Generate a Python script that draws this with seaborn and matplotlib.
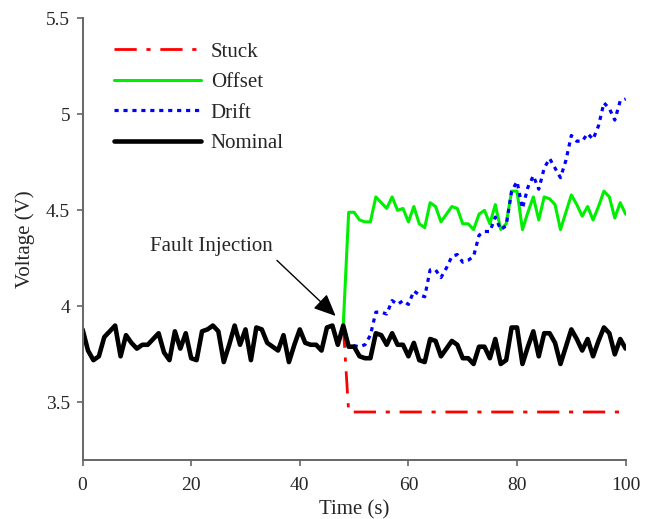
import matplotlib as mpl
import numpy as np
import pandas as pd
mpl.use("Agg")
import matplotlib.pyplot as plt
import seaborn as sns

# nominal sensor voltage, one sample per second
time_s = list(range(0, 101))
nominal = [3.88, 3.77, 3.72, 3.74, 3.84, 3.87, 3.90, 3.74, 3.85, 3.81,
           3.78, 3.80, 3.80, 3.83, 3.86, 3.76, 3.72, 3.87, 3.78, 3.86,
           3.73, 3.72, 3.87, 3.88, 3.90, 3.87, 3.71, 3.80, 3.90, 3.80,
           3.88, 3.72, 3.89, 3.88, 3.81, 3.79, 3.77, 3.85, 3.71, 3.80,
           3.88, 3.81, 3.80, 3.80, 3.77, 3.89, 3.90, 3.80, 3.90, 3.79,
           3.79, 3.74, 3.73, 3.73, 3.86, 3.85, 3.80, 3.86, 3.80, 3.80,
           3.74, 3.81, 3.72, 3.71, 3.83, 3.82, 3.74, 3.78, 3.82, 3.80,
           3.73, 3.73, 3.70, 3.79, 3.79, 3.73, 3.83, 3.70, 3.72, 3.89,
           3.89, 3.70, 3.79, 3.87, 3.74, 3.86, 3.86, 3.81, 3.70, 3.79,
           3.88, 3.83, 3.77, 3.83, 3.74, 3.82, 3.89, 3.86, 3.75, 3.83,
           3.78]

# faulty signals, from the injection time (48 s) onwards
fault_time = list(range(48, 101))
stuck = [3.90] + [3.45] * 52
offset = [3.90, 4.49, 4.49, 4.45, 4.44, 4.44, 4.57, 4.54, 4.51, 4.57,
          4.50, 4.51, 4.44, 4.52, 4.43, 4.41, 4.54, 4.52, 4.44, 4.48,
          4.52, 4.51, 4.43, 4.43, 4.40, 4.48, 4.50, 4.43, 4.53, 4.40,
          4.43, 4.60, 4.60, 4.40, 4.49, 4.57, 4.45, 4.57, 4.56, 4.53,
          4.40, 4.49, 4.58, 4.53, 4.47, 4.52, 4.45, 4.52, 4.60, 4.57,
          4.46, 4.54, 4.48]
drift = [3.90, 3.79, 3.795, 3.79, 3.80, 3.85, 3.97, 3.97, 3.96, 4.03,
         4.01, 4.03, 4.01, 4.08, 4.06, 4.05, 4.19, 4.19, 4.15, 4.20,
         4.26, 4.27, 4.23, 4.24, 4.26, 4.37, 4.39, 4.39, 4.465, 4.40,
         4.42, 4.60, 4.65, 4.51, 4.62, 4.68, 4.61, 4.72, 4.77, 4.72,
         4.67, 4.76, 4.89, 4.86, 4.86, 4.90, 4.87, 4.94, 5.06, 5.03,
         4.97, 5.07, 5.08]

df_nom = pd.DataFrame({"t": time_s, "v": nominal})
df_stuck = pd.DataFrame({"t": fault_time, "v": stuck})
df_off = pd.DataFrame({"t": fault_time, "v": offset})
df_drift = pd.DataFrame({"t": fault_time, "v": drift})

sns.set_style("white")
plt.rcParams['font.family'] = ['Liberation Serif', 'DejaVu Serif']

fig = plt.figure(figsize=(6.45, 5.19), dpi=100)
ax = fig.add_axes([0.128, 0.1137, 0.842, 0.851])

sns.lineplot(data=df_stuck, x="t", y="v", ax=ax, color="#ff0000", lw=2.0,
             linestyle=(0, (8, 3.5, 1.5, 3.5)), label="Stuck")
sns.lineplot(data=df_off, x="t", y="v", ax=ax, color="#00ee00", lw=2.2,
             label="Offset")
sns.lineplot(data=df_drift, x="t", y="v", ax=ax, color="#0000ff", lw=2.3,
             linestyle=(0, (1.3, 1.5)), label="Drift")
sns.lineplot(data=df_nom, x="t", y="v", ax=ax, color="black", lw=3.3,
             label="Nominal")

ax.set_xlim(0, 100)
ax.set_ylim(3.2, 5.5)
ax.set_xticks([0, 20, 40, 60, 80, 100])
ax.set_yticks([3.5, 4, 4.5, 5, 5.5])
ax.set_yticklabels(["3.5", "4", "4.5", "5", "5.5"])
ax.tick_params(direction="out", length=4, width=1.2, color="#666666",
               labelsize=14, pad=5, bottom=True, left=True)
ax.tick_params(axis="x", pad=8)
for s in ["top", "right"]:
    ax.spines[s].set_visible(False)
for s in ["left", "bottom"]:
    ax.spines[s].set_color("#666666")
    ax.spines[s].set_linewidth(1.4)

ax.set_xlabel("Time (s)", fontsize=15, labelpad=5)
ax.set_ylabel("Voltage (V)", fontsize=15, labelpad=8)

ax.annotate("Fault Injection", xy=(46.6, 3.95), xytext=(12.4, 4.31),
            fontsize=15, ha="left", va="center",
            arrowprops=dict(arrowstyle="-|>,head_length=0.9,head_width=0.4",
                            mutation_scale=15, color="black", lw=1,
                            relpos=(1.0, 0.0), shrinkA=1, shrinkB=0))

ax.legend(loc="upper left", bbox_to_anchor=(0.031, 0.979), frameon=False,
          fontsize=15, handlelength=4.2, handletextpad=0.45,
          labelspacing=0.52, borderaxespad=0.3)

plt.savefig("out.png", dpi=100)
